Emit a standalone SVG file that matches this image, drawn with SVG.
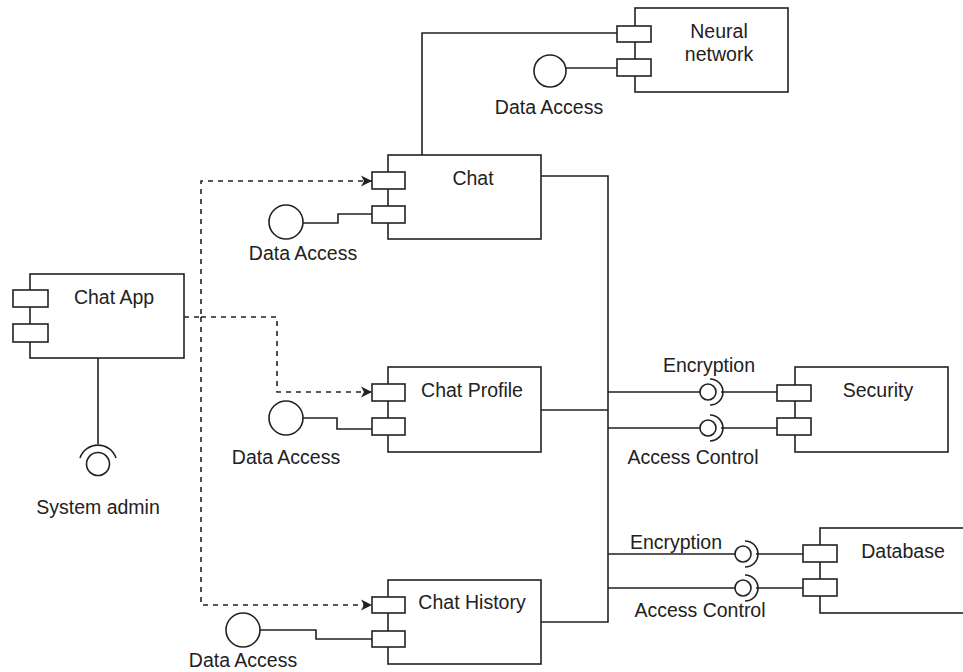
<svg xmlns="http://www.w3.org/2000/svg" width="963" height="672" viewBox="0 0 963 672">
<style>
.box{fill:#fff;stroke:#222;stroke-width:1.6}
.port{fill:#fff;stroke:#222;stroke-width:1.6}
.ln{fill:none;stroke:#222;stroke-width:1.6}
.dash{fill:none;stroke:#222;stroke-width:1.6;stroke-dasharray:5 5}
.t{font-family:"Liberation Sans",Arial,sans-serif;font-size:19.5px;fill:#222;text-anchor:middle}
</style>
<defs>
<marker id="arr" markerWidth="12" markerHeight="12" refX="11" refY="6" orient="auto" markerUnits="userSpaceOnUse">
<path d="M0,0.5 L11,6 L0,11.5 L3,6 Z" fill="#222"/>
</marker>
</defs>
<rect width="963" height="672" fill="#fff"/>
<g id="connectors">
<path class="ln" d="M422,155 V33 H617"/>
<path class="ln" d="M566,68 H617"/>
<path class="ln" d="M541,176 H608 V622 H541"/>
<path class="ln" d="M541,410 H608"/>
<path class="ln" d="M303,223 H338 V214 H372"/>
<path class="ln" d="M303,418 H337 V429 H379"/>
<path class="ln" d="M260,630 H316 V639 H372"/>
<path class="ln" d="M98,358 V444"/>
<path class="dash" d="M184,317 H201 V181 H372" marker-end="url(#arr)"/>
<path class="dash" d="M201,317 V605 H372" marker-end="url(#arr)"/>
<path class="dash" d="M201,317 H277 V392 H372" marker-end="url(#arr)"/>
<path class="ln" d="M608,392 H700 M721,392 H777"/>
<path class="ln" d="M608,428 H700 M721,428 H777"/>
<path class="ln" d="M608,554 H735 M756,554 H803"/>
<path class="ln" d="M608,588 H735 M756,588 H803"/>
</g>
<g id="sockets">
<circle class="ln" cx="708" cy="392" r="8"/>
<path class="ln" d="M710,379 A13,13 0 0 1 710,405"/>
<circle class="ln" cx="708" cy="428" r="8"/>
<path class="ln" d="M710,415 A13,13 0 0 1 710,441"/>
<circle class="ln" cx="743" cy="554" r="8"/>
<path class="ln" d="M745,541 A13,13 0 0 1 745,567"/>
<circle class="ln" cx="743" cy="588" r="8"/>
<path class="ln" d="M745,575 A13,13 0 0 1 745,601"/>
<circle class="ln" cx="98" cy="464" r="11.5"/>
<path class="ln" d="M80,458 A19,19 0 0 1 116,458"/>
</g>
<g id="neural-network">
<rect class="box" x="635" y="8" width="153" height="84"/>
<rect class="port" x="617" y="26" width="34" height="16"/>
<rect class="port" x="617" y="59" width="34" height="17"/>
<text class="t" x="719" y="38">Neural</text>
<text class="t" x="719" y="61">network</text>
</g>
<g id="neural-data-access">
<circle class="ln" cx="550" cy="71" r="16" fill="#fff"/>
<text class="t" x="549" y="114">Data Access</text>
</g>
<g id="chat">
<rect class="box" x="388" y="155" width="153" height="84"/>
<rect class="port" x="372" y="172" width="33" height="17"/>
<rect class="port" x="372" y="206" width="33" height="17"/>
<text class="t" x="473" y="185">Chat</text>
</g>
<g id="chat-data-access">
<circle class="ln" cx="286" cy="222" r="17" fill="#fff"/>
<text class="t" x="303" y="260">Data Access</text>
</g>
<g id="chat-app">
<rect class="box" x="30" y="274" width="154" height="84"/>
<rect class="port" x="13" y="290" width="35" height="17"/>
<rect class="port" x="13" y="324" width="35" height="18"/>
<text class="t" x="114" y="304">Chat App</text>
</g>
<g id="system-admin">
<text class="t" x="98" y="514">System admin</text>
</g>
<g id="chat-profile">
<rect class="box" x="388" y="367" width="153" height="85"/>
<rect class="port" x="372" y="384" width="33" height="17"/>
<rect class="port" x="372" y="418" width="33" height="17"/>
<text class="t" x="472" y="397">Chat Profile</text>
</g>
<g id="profile-data-access">
<circle class="ln" cx="286" cy="418" r="17" fill="#fff"/>
<text class="t" x="286" y="464">Data Access</text>
</g>
<g id="chat-history">
<rect class="box" x="388" y="580" width="153" height="84"/>
<rect class="port" x="372" y="597" width="33" height="16"/>
<rect class="port" x="372" y="631" width="33" height="16"/>
<text class="t" x="472" y="609">Chat History</text>
</g>
<g id="history-data-access">
<circle class="ln" cx="243" cy="630" r="17" fill="#fff"/>
<text class="t" x="243" y="667">Data Access</text>
</g>
<g id="security">
<rect class="box" x="795" y="367" width="153" height="85"/>
<rect class="port" x="777" y="385" width="34" height="16"/>
<rect class="port" x="777" y="418" width="34" height="17"/>
<text class="t" x="878" y="397">Security</text>
<text class="t" x="709" y="372">Encryption</text>
<text class="t" x="693" y="464">Access Control</text>
</g>
<g id="database">
<rect class="box" x="820" y="528" width="160" height="85"/>
<rect class="port" x="803" y="545" width="34" height="17"/>
<rect class="port" x="803" y="579" width="34" height="17"/>
<text class="t" x="903" y="558">Database</text>
<text class="t" x="676" y="549">Encryption</text>
<text class="t" x="700" y="617">Access Control</text>
</g>
</svg>
